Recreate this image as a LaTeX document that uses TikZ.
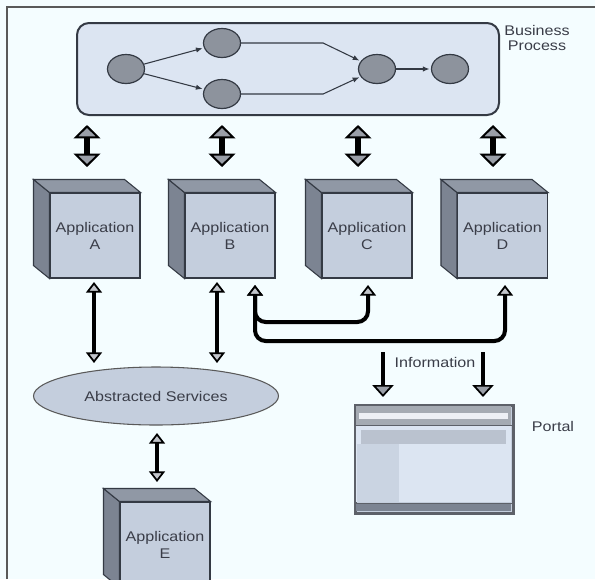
\documentclass[tikz,border=0pt]{standalone}
\usepackage{fontspec}
\setmainfont{Liberation Sans}[FakeStretch=1.15]
\usetikzlibrary{arrows.meta,shapes.geometric,calc}

\definecolor{bg}{HTML}{F4FDFF}
\definecolor{bpfill}{HTML}{DCE5F2}
\definecolor{taskfill}{HTML}{8D939D}
\definecolor{edge}{HTML}{343A44}
\definecolor{front}{HTML}{C4CEDD}
\definecolor{sideface}{HTML}{7C8492}
\definecolor{topface}{HTML}{9098A5}
\definecolor{txt}{HTML}{3A3D48}
\definecolor{headfill}{HTML}{9A9FA8}

\begin{document}
\begin{tikzpicture}[x=0.75pt,y=-0.75pt,
    font=\fontsize{10.5}{11}\selectfont, text=txt,
    bp/.style={rectangle, draw=edge, line width=1.5pt, fill=bpfill, rounded corners=9pt,
        minimum width=316.5pt, minimum height=69pt},
    task/.style={ellipse, draw=edge, line width=0.9pt, fill=taskfill, inner sep=0pt,
        minimum width=27.75pt, minimum height=21.75pt},
    flow/.style={draw=edge, line width=0.8pt, -{Latex[length=5pt,width=4pt]}, shorten >=1pt},
    app/.style={rectangle, draw=edge, line width=0.8pt, fill=front, inner sep=0pt,
        minimum width=67.5pt, minimum height=63.75pt, align=center,
        font=\fontsize{10.5}{12.75}\selectfont},
    dbl/.style={line width=4.5pt,
        {Triangle[width=20pt,length=10pt,fill=headfill,line width=1.5pt]}-{Triangle[width=20pt,length=10pt,fill=headfill,line width=1.5pt]}},
    conn/.style={line width=3pt,
        {Triangle[width=12pt,length=8pt,fill=headfill!60,line width=1.3pt]}-{Triangle[width=12pt,length=8pt,fill=headfill!60,line width=1.3pt]}},
    info/.style={line width=3pt, -{Triangle[width=16pt,length=9pt,fill=headfill,line width=1.3pt]}},
    svcstyle/.style={ellipse, draw=gray!70!black, line width=0.8pt, fill=front,
        minimum width=183.75pt, minimum height=43.5pt},
    portal/.style={rectangle, draw=edge!80, line width=1.2pt, fill=front, inner sep=0pt,
        minimum width=117.75pt, minimum height=80.25pt}]

    \useasboundingbox (0,0) rectangle (595,579);
    \clip (0,0) rectangle (595,579);
    \fill[bg] (0,0) rectangle (595,579);
    \draw[line width=1.5pt, draw=gray!70!black] (7,579) -- (7,7) -- (595,7);

    % business process
    \node[bp] (bp) at (288,69) {};
    \node[align=center] (bptext) at (537,38) {Business\\Process};
    \node[task] (c1) at (126,69) {};
    \node[task] (c2) at (222,43) {};
    \node[task] (c3) at (222,94) {};
    \node[task] (c4) at (377,69) {};
    \node[task] (c5) at (450,69) {};
    \draw[flow] (c1) -- (c2);
    \draw[flow] (c1) -- (c3);
    \draw[flow] (c2.east) -- ++(82,0) -- (c4);
    \draw[flow] (c3.east) -- ++(82,0) -- (c4);
    \draw[flow] (c4) -- (c5);

    % applications
    \foreach \l/\x/\y in {A/95/235.5,B/230/235.5,C/367/235.5,D/502.5/235.5,E/165/544.5}
        {
            \node[app] (app\l) at (\x,\y) {Application\\\l};
            %side and top faces
            \draw[fill=sideface, draw=edge, line width=0.8pt] (app\l.north west) -- ++(-16,-13)
                -- ($(app\l.south west)+(-16,-13)$) -- (app\l.south west) -- cycle;
            \draw[fill=topface, draw=edge, line width=0.8pt] (app\l.north west) -- ++(-16,-13)
                -- ($(app\l.north east)+(-16,-13)$) -- (app\l.north east) -- cycle;
        }

    % business process <-> applications
    \foreach \x [count=\i] in {87,222,358,493}
        {
            \coordinate (bt\i) at (\x,125);
            \coordinate (at\i) at (\x,167);
            \draw[dbl] (bt\i) -- (at\i);
        }

    % abstracted services
    \node[svcstyle] (svc) at (156,396) {Abstracted Services};
    \coordinate (aA) at (94,282);  \coordinate (sA) at (94,363);
    \coordinate (aB) at (217,282); \coordinate (sB) at (217,363);
    \draw[conn] (aA) -- (sA);
    \draw[conn] (aB) -- (sB);
    \coordinate (sE) at (157,433); \coordinate (eS) at (157,482);
    \draw[conn] (sE) -- (eS);

    % information flow
    \coordinate (bB) at (255,285);
    \coordinate (bC) at (368,285);
    \coordinate (bD) at (505,285);
    \draw[conn, rounded corners=8pt] (bB) -- ++(0,37) -| (bC);
    \draw[conn, rounded corners=8pt] (bB) -- ++(0,56) -| (bD);

    % portal
    \node[portal] (portal) at (434.5,459.5) {};
    \begin{scope}[shift={(portal.north west)}]
        \fill[gray!45!front] (1,1) rectangle (156,20);
        \fill[white!70!front] (4,8) rectangle (153,14);
        \fill[bpfill] (1,21) rectangle (156,97);
        \fill[front!85!gray] (6,25) rectangle (151,39);
        \fill[front!75!bpfill] (2,39) rectangle (44,97);
        \fill[sideface] (1,98) rectangle (156,106);
        \draw[edge!80, line width=0.9pt] (0,20.5) -- (157,20.5);
        \draw[edge!80, line width=0.6pt] (0,98) -- (157,98);
    \end{scope}
    \draw[edge!80, line width=1.2pt] (portal.north west) rectangle (portal.south east);
    \node (portaltext) at (553,426) {Portal};
    \node (infotext) at (435,362) {Information};
    \coordinate (i1) at (383,352); \coordinate (p1) at (383,397);
    \coordinate (i2) at (483,352); \coordinate (p2) at (483,397);
    \draw[info] (i1) -- (p1);
    \draw[info] (i2) -- (p2);
\end{tikzpicture}
\end{document}
